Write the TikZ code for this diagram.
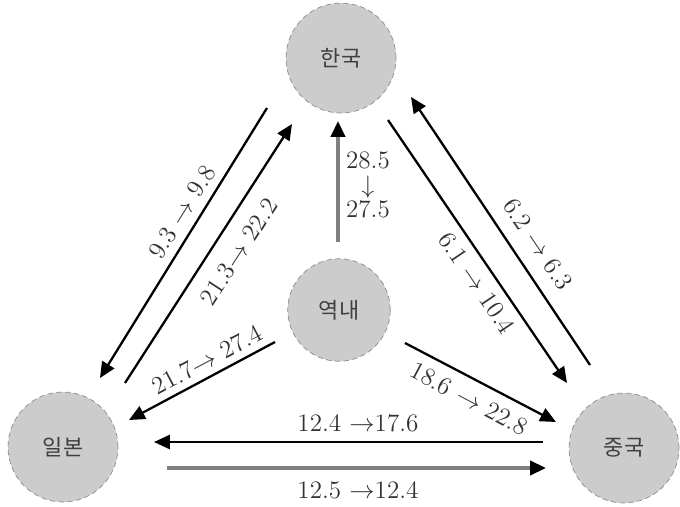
\documentclass[tikz,border=0pt]{standalone}
\usepackage{fontspec}
\usetikzlibrary{arrows.meta}
\newfontfamily\krfont{Noto Sans CJK KR}

\tikzset{
  country/.style={circle, fill=black!20, draw=black!45, densely dashed, thin,
    minimum size=2.2cm, inner sep=0pt,
    font=\krfont\fontsize{12.5}{14}\selectfont, text=black!75},
  flow/.style={line width=1.3pt, -{Triangle[length=9pt,width=8pt]}},
  grayflow/.style={draw=black!50, line width=1.9pt,
    -{Triangle[length=9pt,width=8pt,color=black]}},
  lbl/.style={font=\fontsize{14.3}{16}\selectfont, text=black!80, inner sep=1pt},
}

\begin{document}
\begin{tikzpicture}[x=0.02cm, y=-0.02cm]
        \useasboundingbox (0,0) rectangle (680,507);

        % -- circles -------------------------------------------------------------
        \node[country] (kor) at (341, 58) {한국};
        \node[country, minimum size=2.05cm] (reg) at (339, 310) {역내};
        \node[country] (jpn) at (63, 447) {일본};
        \node[country] (chn) at (624, 448) {중국};

        % -- arrow end points ----------------------------------------------------
        \coordinate (kj-a) at (267, 108);  \coordinate (kj-b) at (100, 378);
        \coordinate (jk-a) at (125, 383);  \coordinate (jk-b) at (292, 124);
        \coordinate (rj-a) at (275, 342);  \coordinate (rj-b) at (129, 420);
        \coordinate (rk-a) at (338, 242);  \coordinate (rk-b) at (338, 121);
        \coordinate (kc-a) at (388, 120);  \coordinate (kc-b) at (567, 383);
        \coordinate (ck-a) at (590, 365);  \coordinate (ck-b) at (411, 97);
        \coordinate (rc-a) at (405, 343);  \coordinate (rc-b) at (556, 422);
        \coordinate (cj-a) at (543, 442);  \coordinate (cj-b) at (154, 442);
        \coordinate (jc-a) at (167, 468);  \coordinate (jc-b) at (546, 468);

        % -- flows ---------------------------------------------------------------
        \draw[flow] (kj-a) -- (kj-b);
        \draw[flow] (jk-a) -- (jk-b);
        \draw[flow] (rj-a) -- (rj-b);
        \draw[grayflow] (rk-a) -- (rk-b);
        \draw[flow] (kc-a) -- (kc-b);
        \draw[flow] (ck-a) -- (ck-b);
        \draw[flow] (rc-a) -- (rc-b);
        \draw[flow] (cj-a) -- (cj-b);
        \draw[grayflow] (jc-a) -- (jc-b);

        % -- labels --------------------------------------------------------------
        \node[lbl, rotate=58] (l-kj) at (182, 212) {9.3 $\rightarrow$ 9.8};
        \node[lbl, rotate=57] (l-jk) at (239, 252) {21.3$\rightarrow$ 22.2};
        \node[lbl, rotate=28] (l-rj) at (207, 360) {21.7$\rightarrow$ 27.4};
        \node[lbl, align=center] (l-rk) at (368, 185) {28.5\\[-2pt]$\downarrow$\\[-2pt]27.5};
        \node[lbl, rotate=-56] (l-kc) at (477, 283) {6.1 $\rightarrow$ 10.4};
        \node[lbl, rotate=-56] (l-ck) at (538, 244) {6.2 $\rightarrow$ 6.3};
        \node[lbl, rotate=-28] (l-rc) at (469, 399) {18.6 $\rightarrow$ 22.8};
        \node[lbl] (l-cj) at (358, 423) {12.4 $\rightarrow$17.6};
        \node[lbl] (l-jc) at (358, 490) {12.5 $\rightarrow$12.4};
    \end{tikzpicture}
\end{document}
